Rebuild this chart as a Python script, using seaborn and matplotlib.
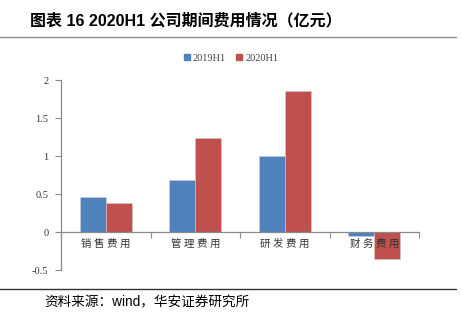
import matplotlib
matplotlib.use("Agg")
import matplotlib.pyplot as plt
import seaborn as sns
import pandas as pd
from matplotlib.lines import Line2D
from matplotlib.ticker import FixedLocator

categories = ["销售费用", "管理费用", "研发费用", "财务费用"]
series_names = ["2019H1", "2020H1"]
values_2019 = [0.46, 0.68, 1.00, -0.05]
values_2020 = [0.38, 1.24, 1.86, -0.36]
y_ticks = [-0.5, 0, 0.5, 1, 1.5, 2]
y_tick_labels = ["-0.5", "0", "0.5", "1", "1.5", "2"]

df = pd.DataFrame({
    "类别": categories * 2,
    "系列": [series_names[0]] * 4 + [series_names[1]] * 4,
    "值": values_2019 + values_2020,
})

sns.set_theme(style="white")
plt.rcParams["font.family"] = ["Liberation Serif", "Noto Sans CJK SC"]

fig = plt.figure(figsize=(4.62, 3.23), dpi=100)
ax = fig.add_axes([61 / 462, 1 - 270 / 323, (419 - 61) / 462, (270 - 80) / 323])

palette = {"2019H1": "#4F81BD", "2020H1": "#C0504D"}
sns.barplot(data=df, x="类别", y="值", hue="系列", palette=palette,
            order=categories, hue_order=series_names, width=0.58,
            saturation=1, edgecolor="#d0d0d0", linewidth=0.4, ax=ax,
            legend=False)

ax.set_xlim(-0.5, len(categories) - 0.5)
ax.set_ylim(-0.5, 2)
ax.set_xlabel("")
ax.set_ylabel("")
ax.set_yticks(y_ticks)
ax.set_yticklabels(y_tick_labels, fontsize=7.5, color="#333333")

for side in ["top", "right"]:
    ax.spines[side].set_visible(False)
ax.spines["left"].set_color("#8a8a8a")
ax.spines["left"].set_linewidth(0.9)
ax.spines["bottom"].set_position(("data", 0))
ax.spines["bottom"].set_color("#8a8a8a")
ax.spines["bottom"].set_linewidth(0.9)

ax.tick_params(axis="y", direction="out", length=4, width=0.8, color="#8a8a8a",
               left=True, pad=5)
ax.tick_params(axis="x", which="major", length=0, pad=5)
ax.xaxis.set_minor_locator(FixedLocator([-0.5, 0.5, 1.5, 2.5, 3.5]))
ax.tick_params(axis="x", which="minor", direction="out", length=4, width=0.8,
               color="#8a8a8a", bottom=True)
ax.set_xticks(range(len(categories)))
ax.set_xticklabels([" ".join(c) for c in categories])
for lbl in ax.get_xticklabels():
    lbl.set_family(["Liberation Serif", "Noto Sans CJK SC"])
    lbl.set_fontsize(7.5)
    lbl.set_color("#333333")
    lbl.set_fontweight("light")
# keep category labels above the negative bars
ax.xaxis.set_zorder(10)
ax.spines["bottom"].set_zorder(10)

# legend
handles = [Line2D([], [], marker="s", linestyle="", markersize=4.5,
                  markerfacecolor=palette[s], markeredgecolor=palette[s])
           for s in series_names]
fig.legend(handles, series_names, loc="center", bbox_to_anchor=(231 / 462, 1 - 58 / 323),
           ncol=2, frameon=False, fontsize=7.5, handlelength=0.6, handletextpad=0.25,
           columnspacing=1.0, labelcolor="#444444")

# title and rules
fig.text(30 / 462, 1 - 21 / 323, "图表 16 2020H1 公司期间费用情况（亿元）",
         family=["Liberation Sans", "Noto Sans CJK SC"], fontweight="bold",
         fontsize=11.5, va="center", ha="left", color="black")
fig.add_artist(Line2D([0, 456 / 462], [1 - 36.5 / 323] * 2, color="#8c8c8c", linewidth=1.0))
fig.add_artist(Line2D([0, 456 / 462], [1 - 289 / 323] * 2, color="#333333", linewidth=1.0))
fig.text(44 / 462, 1 - 302 / 323, "资料来源：wind，华安证券研究所",
         family=["Liberation Sans", "Noto Sans CJK SC"], fontsize=9.8,
         va="center", ha="left", color="black")

fig.savefig("out.png", dpi=100)
